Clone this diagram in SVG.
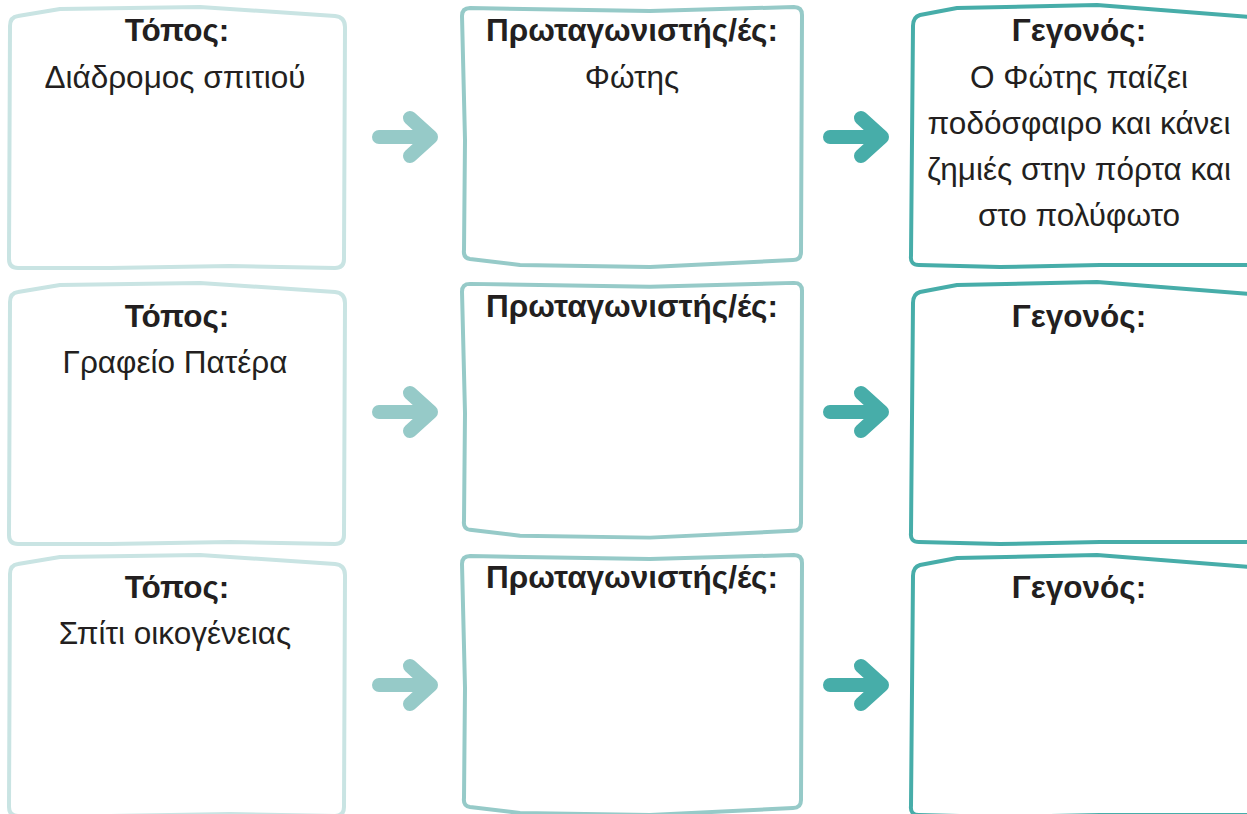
<svg xmlns="http://www.w3.org/2000/svg" width="1247" height="814" viewBox="0 0 1247 814">
<style>
.bx{fill:#fff;stroke-width:4;stroke-linejoin:round}
.c1{stroke:#c9e4e3}
.c2{stroke:#96cac8}
.c3{stroke:#47ada9}
.t{font-family:"Liberation Sans",Arial,sans-serif;font-size:31.5px;fill:#231f20;text-anchor:middle}
.b{font-weight:bold}
.a{fill:none;stroke-width:14;stroke-linecap:round;stroke-linejoin:round}
.a1{stroke:#96cac8}
.a2{stroke:#47ada9}
</style>
<defs>
<path id="p1" d="M18,16 L60,9 L200,7 L335,16 Q345,17 345,27 L344,259 Q344,268 335,268 L230,266 L110,268 L18,268 Q9,268 9,259 L10,26 Q10,17 18,16 Z"/>
<path id="p2" d="M470,8 L650,11 L794,7 Q802,7 802,15 L801,252 Q801,260 793,260 L650,267 L520,265 L470,259 Q463,258 464,250 L465,140 L462,16 Q462,8 470,8 Z"/>
<path id="p3" d="M920,15 L957,8 L1097,5 L1250,17 L1250,265 L1100,265 L1000,267 L919,265 Q910,265 911,256 L912,140 L913,26 Q913,17 920,15 Z"/>
<path id="ar" d="M0,0 L52,0 M31,-19 L52,0 L31,19"/>
</defs>
<g id="connectors">
<use href="#ar" class="a a1" transform="translate(379,137)"/>
<use href="#ar" class="a a2" transform="translate(830,137)"/>
<use href="#ar" class="a a1" transform="translate(379,412)"/>
<use href="#ar" class="a a2" transform="translate(830,412)"/>
<use href="#ar" class="a a1" transform="translate(379,685)"/>
<use href="#ar" class="a a2" transform="translate(830,685)"/>
</g>
<g id="n1"><use href="#p1" class="bx c1"/>
<text class="t b" x="177" y="41">Τόπος:</text>
<text class="t" x="175" y="88">Διάδρομος σπιτιού</text></g>
<g id="n2"><use href="#p2" class="bx c2"/>
<text class="t b" x="632" y="41">Πρωταγωνιστής/ές:</text>
<text class="t" x="632" y="88">Φώτης</text></g>
<g id="n3"><use href="#p3" class="bx c3"/>
<text class="t b" x="1079" y="41">Γεγονός:</text>
<text class="t" x="1079" y="88">Ο Φώτης παίζει</text>
<text class="t" x="1079" y="134">ποδόσφαιρο και κάνει</text>
<text class="t" x="1079" y="180">ζημιές στην πόρτα και</text>
<text class="t" x="1079" y="226">στο πολύφωτο</text></g>
<g id="n4"><use href="#p1" class="bx c1" transform="translate(0,276)"/>
<text class="t b" x="177" y="327">Τόπος:</text>
<text class="t" x="175" y="373">Γραφείο Πατέρα</text></g>
<g id="n5"><use href="#p2" class="bx c2" transform="translate(0,276) scale(1,0.98)"/>
<text class="t b" x="632" y="317">Πρωταγωνιστής/ές:</text></g>
<g id="n6"><use href="#p3" class="bx c3" transform="translate(0,277)"/>
<text class="t b" x="1079" y="327">Γεγονός:</text></g>
<g id="n7"><use href="#p1" class="bx c1" transform="translate(0,548)"/>
<text class="t b" x="177" y="598">Τόπος:</text>
<text class="t" x="175" y="644">Σπίτι οικογένειας</text></g>
<g id="n8"><use href="#p2" class="bx c2" transform="translate(0,548)"/>
<text class="t b" x="632" y="588">Πρωταγωνιστής/ές:</text></g>
<g id="n9"><use href="#p3" class="bx c3" transform="translate(0,550)"/>
<text class="t b" x="1079" y="598">Γεγονός:</text></g>
</svg>
